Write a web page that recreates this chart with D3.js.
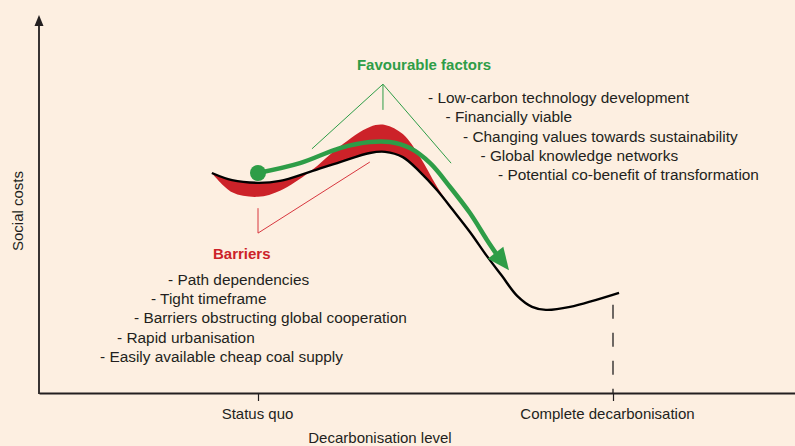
<!DOCTYPE html>
<html><head><meta charset="utf-8">
<script src="https://cdn.jsdelivr.net/npm/d3@7"></script>
<style>
html,body{margin:0;padding:0;background:#fdefe1;}
svg{display:block;font-family:"Liberation Sans",Arial,Helvetica,sans-serif;}
</style></head>
<body>
<svg id="chart" width="795" height="446"></svg>
<script>
// ---- data (conceptual units: level 0 = status quo, 100 = complete decarbonisation; cost 0..100) ----
const levels       = [-13.0, -7.3, 0, 6.2, 14.6, 23.1, 31.5, 35.8, 40.8, 45.6, 50.4, 54.9, 59.7, 64.5, 68.7, 73.0, 77.2, 81.1, 87.9, 101.7];
const socialCost   = [58.2, 56.3, 55.6, 56.1, 58.5, 61.1, 63.5, 63.8, 62.4, 58.5, 53.7, 48.4, 42.6, 36.2, 31.0, 25.7, 22.8, 22.0, 22.8, 26.5];
const barrierShift = [0, -3.2, -3.7, -2.6, 0, 4.2, 6.9, 7.1, 6.1, 4.0, 0.9, 0];
const pathLevels   = [0, 11.8, 23.1, 31.5, 37.2, 42.8, 48.5, 54.1, 59.7, 64.5, 67.0];
const pathCost     = [58.2, 60.8, 64.8, 66.4, 66.4, 64.8, 60.8, 54.5, 47.6, 40.5, 37.0];
const pathTip      = [70.7, 32.5];
const tickValues   = [0, 100];
const tickLabels   = ["Status quo", "Complete decarbonisation"];
const xTitle = "Decarbonisation level";
const yTitle = "Social costs";
const favTitle = "Favourable factors";
const favFactors = ["- Low-carbon technology development", "- Financially viable",
  "- Changing values towards sustainability", "- Global knowledge networks",
  "- Potential co-benefit of transformation"];
const barTitle = "Barriers";
const barriers = ["- Path dependencies", "- Tight timeframe",
  "- Barriers obstructing global cooperation", "- Rapid urbanisation",
  "- Easily available cheap coal supply"];
const favBracket = {apex:[35.2, 81.7], ends:[[15.2, 64.6],[35.2, 74.9],[54.4, 60.8]]};
const barBracket = [[0, 48.9],[0, 42.3],[31.5, 61.1]];

// ---- styles ----
const C = {bg:"#fdefe1", ink:"#231f20", red:"#cc2229", redLine:"#d8373f", green:"#2e9d47"};

const svg = d3.select("#chart");
svg.append("rect").attr("width",795).attr("height",446).attr("fill",C.bg);

const x = d3.scaleLinear().domain([0,100]).range([258,613]);
const y = d3.scaleLinear().domain([0,100]).range([393,15]);
const xAxisScale = x.copy().domain([x.invert(39), x.invert(795)]).range([39,795]);

// x axis
const xAxis = d3.axisBottom(xAxisScale).tickValues(tickValues)
  .tickFormat((d,i)=>tickLabels[i]).tickSize(8).tickSizeOuter(0).tickPadding(7);
const gx = svg.append("g").attr("transform",`translate(0,${y(0)})`).call(xAxis);
gx.select(".domain").attr("stroke",C.ink).attr("stroke-width",1.8);
gx.selectAll(".tick line").attr("stroke",C.ink).attr("stroke-width",1.2);
gx.selectAll(".tick text").attr("fill",C.ink).attr("font-size",15)
  .attr("font-family","Liberation Sans, Arial, sans-serif")
  .attr("dx",(d,i)=>i===1?"-6":"-1");

// y axis with arrow
const yAxis = d3.axisLeft(y).tickValues([]).tickSizeOuter(0);
const gy = svg.append("g").attr("transform",`translate(39,0)`).call(yAxis);
gy.select(".domain").attr("stroke",C.ink).attr("stroke-width",1.8).attr("d",`M0,${y(0)+1}V${y(100)+8}`);
svg.append("path").attr("fill",C.ink)
  .attr("d",`M39,${y(100)} L34.5,${y(100)+11} L43.5,${y(100)+11} Z`);

svg.append("text").attr("transform",`translate(23,211) rotate(-90)`)
  .attr("text-anchor","middle").attr("font-size",15).attr("fill",C.ink).text(yTitle);
svg.append("text").attr("x",380).attr("y",443).attr("text-anchor","middle")
  .attr("font-size",15).attr("fill",C.ink).text(xTitle);

// dashed line at complete decarbonisation
svg.append("line").attr("x1",x(100)).attr("x2",x(100))
  .attr("y1",y(socialCost[socialCost.length-1])+12).attr("y2",y(0))
  .attr("stroke",C.ink).attr("stroke-width",1.3).attr("stroke-dasharray","14,14");

// red barrier band
const pts = levels.map((l,i)=>({l, c:socialCost[i]}));
const band = pts.slice(0, barrierShift.length).map((p,i)=>({l:p.l, c:p.c, s:barrierShift[i]}));
const area = d3.area().x(d=>x(d.l)).y0(d=>y(d.c)).y1(d=>y(d.c+d.s)).curve(d3.curveCatmullRom);
svg.append("path").datum(band).attr("d",area).attr("fill",C.red);

// black cost curve
const line = d3.line().x(d=>x(d.l)).y(d=>y(d.c)).curve(d3.curveCatmullRom);
svg.append("path").datum(pts).attr("d",line).attr("fill","none")
  .attr("stroke","#000").attr("stroke-width",2.4).attr("stroke-linecap","butt");

// green transition path with arrow
const gp = pathLevels.map((l,i)=>({l, c:pathCost[i]}));
svg.append("path").datum(gp).attr("d",line).attr("fill","none")
  .attr("stroke",C.green).attr("stroke-width",4.5);
{
  const tx = x(pathTip[0]), ty = y(pathTip[1]);
  const last = gp[gp.length-1];
  const bx0 = x(last.l), by0 = y(last.c);
  let dx = tx-bx0, dy = ty-by0; const len = Math.hypot(dx,dy); dx/=len; dy/=len;
  const L = 22, W = 9.8;
  const bx = tx-L*dx, by = ty-L*dy;
  svg.append("path").attr("fill",C.green)
    .attr("d",`M${tx},${ty} L${bx-W*dy},${by+W*dx} L${bx+W*dy},${by-W*dx} Z`);
}
svg.append("circle").attr("cx",x(pathLevels[0])).attr("cy",y(pathCost[0])).attr("r",8).attr("fill",C.green);

// favourable bracket
favBracket.ends.forEach(e=>{
  svg.append("line").attr("x1",x(favBracket.apex[0])).attr("y1",y(favBracket.apex[1]))
    .attr("x2",x(e[0])).attr("y2",y(e[1])).attr("stroke",C.green).attr("stroke-width",1);
});
// barrier bracket
svg.append("path").attr("fill","none").attr("stroke",C.redLine).attr("stroke-width",1)
  .attr("d",d3.line().x(d=>x(d[0])).y(d=>y(d[1]))(barBracket));

// texts
svg.append("text").attr("x",424).attr("y",70).attr("text-anchor","middle").attr("font-weight","bold")
  .attr("font-size",15).attr("fill",C.green).text(favTitle);
svg.selectAll("text.fav").data(favFactors).join("text").attr("class","fav")
  .attr("x",(d,i)=>428+i*17.5).attr("y",(d,i)=>103+i*19.3)
  .attr("font-size",15.4).attr("fill",C.ink).text(d=>d);
svg.append("text").attr("x",213).attr("y",259).attr("font-weight","bold")
  .attr("font-size",15).attr("fill",C.red).text(barTitle);
svg.selectAll("text.bar").data(barriers).join("text").attr("class","bar")
  .attr("x",(d,i)=>168-i*17).attr("y",(d,i)=>285+i*19.2)
  .attr("font-size",15.4).attr("fill",C.ink).text(d=>d);
</script>
</body></html>
